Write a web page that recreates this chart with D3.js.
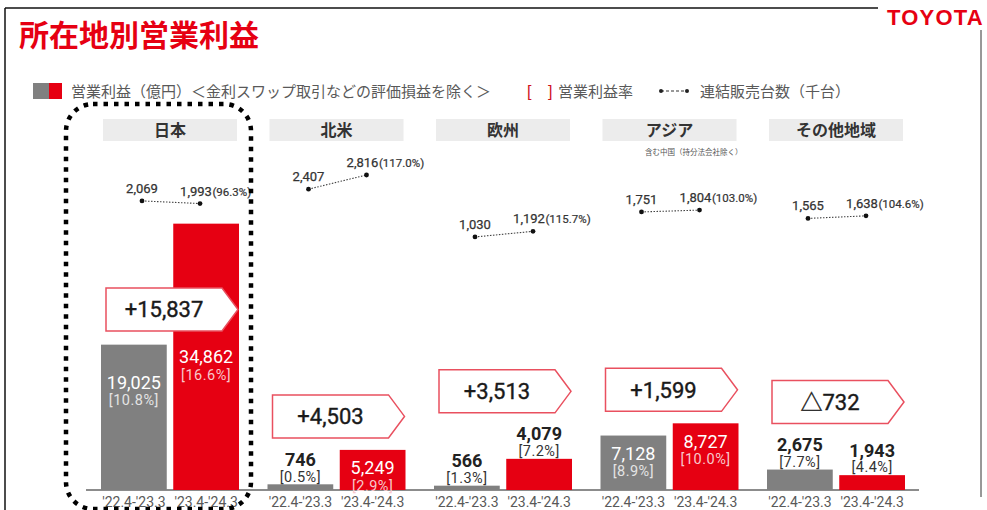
<!DOCTYPE html>
<html><head><meta charset="utf-8">
<script src="https://cdn.jsdelivr.net/npm/d3@7"></script>
<style>
body{margin:0;background:#fff}
svg{display:block}
text{font-family:Roboto,"Noto Sans CJK JP",sans-serif}
.jp{font-family:"Noto Sans CJK JP",sans-serif}
</style></head><body>
<svg id="chart" width="987" height="510"></svg>
<script>
// 所在地別営業利益 (億円)
var regions = ["日本", "北米", "欧州", "アジア", "その他地域"]
var periods = ["'22.4-'23.3", "'23.4-'24.3"]
var profitPrev = [19025, 746, 566, 7128, 2675]
var profitCurr = [34862, 5249, 4079, 8727, 1943]
var marginPrev = [10.8, 0.5, 1.3, 8.9, 7.7]
var marginCurr = [16.6, 2.9, 7.2, 10.0, 4.4]
// 連結販売台数 (千台)
var unitsPrev = [2069, 2407, 1030, 1751, 1565]
var unitsCurr = [1993, 2816, 1192, 1804, 1638]
var unitsRatio = [96.3, 117.0, 115.7, 103.0, 104.6]
var notes = ["", "", "", "含む中国（持分法会社除く）", ""]

var RED = "#e60012", GRAY = "#808080", TXT = "#595959"
var svg = d3.select("#chart")
var fmt = d3.format(",")
var pctFmt = d3.format(".1f")

var baseY = 490
var panelX = d3.scaleBand().domain(regions).range([101, 933.5]).padding(0)
var barX = d3.scaleBand().domain(periods).range([0, 138]).paddingInner(0.09)
var yProfit = d3.scaleLinear().domain([0, 35000]).range([baseY, 222.6])
var yUnits = d3.scaleLinear().domain([0, 3000]).range([272.7, 168.6])

// frame
svg.append("line").attr("x1", 5).attr("x2", 878).attr("y1", 8).attr("y2", 8)
    .attr("stroke", "#111").attr("stroke-width", 1.5)
svg.append("line").attr("x1", 5).attr("x2", 5).attr("y1", 8).attr("y2", 510)
    .attr("stroke", "#111").attr("stroke-width", 1.5)
svg.append("line").attr("x1", 981).attr("x2", 981).attr("y1", 30).attr("y2", 497)
    .attr("stroke", "#333").attr("stroke-width", 1)

svg.append("text").attr("class", "jp").attr("x", 19).attr("y", 46)
    .attr("font-size", 30).attr("font-weight", 700).attr("fill", RED)
    .text("所在地別営業利益")
svg.append("text").attr("x", 887).attr("y", 25)
    .style("font-family", "'Liberation Sans', Arial, sans-serif")
    .attr("font-size", 22).attr("font-weight", 700).attr("fill", RED)
    .attr("letter-spacing", 1.2).text("TOYOTA")

// legend
svg.append("rect").attr("x", 33).attr("y", 83).attr("width", 16).attr("height", 16).attr("fill", GRAY)
svg.append("rect").attr("x", 49).attr("y", 83).attr("width", 13).attr("height", 16).attr("fill", RED)
svg.append("text").attr("class", "jp").attr("x", 71).attr("y", 97).attr("font-size", 15)
    .attr("fill", TXT).text("営業利益（億円）＜金利スワップ取引などの評価損益を除く＞")
svg.append("text").attr("x", 527).attr("y", 97).attr("font-size", 16)
    .style("font-family", "'Liberation Sans', sans-serif").attr("fill", "#d0101e").text("[")
svg.append("text").attr("x", 548).attr("y", 97).attr("font-size", 16)
    .style("font-family", "'Liberation Sans', sans-serif").attr("fill", "#d0101e").text("]")
svg.append("text").attr("class", "jp").attr("x", 558).attr("y", 97).attr("font-size", 15)
    .attr("fill", TXT).text("営業利益率")
svg.append("line").attr("x1", 661).attr("x2", 687).attr("y1", 91).attr("y2", 91)
    .attr("stroke", "#333").attr("stroke-width", 1.2).attr("stroke-dasharray", "3,2")
svg.selectAll(".legDot").data([661, 687]).join("circle")
    .attr("cx", d => d).attr("cy", 91).attr("r", 2).attr("fill", "#222")
svg.append("text").attr("class", "jp").attr("x", 700).attr("y", 97).attr("font-size", 15)
    .attr("fill", TXT).text("連結販売台数（千台）")

// baseline
svg.append("line").attr("x1", 86).attr("x2", 919).attr("y1", baseY).attr("y2", baseY)
    .attr("stroke", "#666").attr("stroke-width", 1.5)

var badgeFloor = 331
var labelNudge = {"日本": [20, 8]}

regions.forEach(function (r, i) {
    var px = panelX(r)
    var g = svg.append("g").attr("transform", "translate(" + px + ",0)")

    // header
    g.append("rect").attr("x", 2).attr("y", 119).attr("width", 134).attr("height", 22).attr("fill", "#ececec")
    g.append("text").attr("class", "jp").attr("x", 69).attr("y", 136).attr("text-anchor", "middle")
        .attr("font-size", 16).attr("font-weight", 700).attr("fill", "#333").text(r)
    if (notes[i]) {
        g.append("text").attr("class", "jp").attr("x", 142).attr("y", 155).attr("text-anchor", "end")
            .attr("font-size", 7.5).attr("fill", "#555").text(notes[i])
    }

    // sales units line
    var u = [unitsPrev[i], unitsCurr[i]]
    var ux = [41, 99]
    g.append("line").attr("x1", ux[0]).attr("x2", ux[1])
        .attr("y1", yUnits(u[0])).attr("y2", yUnits(u[1]))
        .attr("stroke", "#444").attr("stroke-width", 1.1).attr("stroke-dasharray", "1.5,1.5")
    g.selectAll(".uDot").data(u).join("circle")
        .attr("cx", (d, k) => ux[k]).attr("cy", d => yUnits(d)).attr("r", 2.4).attr("fill", "#111")
    g.append("text").attr("x", ux[0]).attr("y", yUnits(u[0]) - 8).attr("text-anchor", "middle")
        .attr("font-size", 13).attr("fill", "#333").attr("stroke", "#333").attr("stroke-width", 0.25)
        .text(fmt(u[0]))
    var num = g.append("text").attr("x", ux[1] - 4).attr("y", yUnits(u[1]) - 8).attr("text-anchor", "middle")
        .attr("font-size", 13).attr("fill", "#333").attr("stroke", "#333").attr("stroke-width", 0.25)
        .text(fmt(u[1]))
    var w = num.node().getComputedTextLength()
    g.append("text").attr("x", ux[1] - 4 + w / 2 + 0.5).attr("y", yUnits(u[1]) - 8)
        .attr("font-size", 11.5).attr("fill", "#333").attr("stroke", "#333").attr("stroke-width", 0.2)
        .text("(" + pctFmt(unitsRatio[i]) + "%)")

    // bars
    var vals = [profitPrev[i], profitCurr[i]]
    var margins = [marginPrev[i], marginCurr[i]]
    var colors = [GRAY, RED]
    var bars = periods.map(function (p, k) {
        var top = yProfit(vals[k])
        return {p: p, v: vals[k], m: margins[k], top: top, h: baseY - top, c: colors[k], inside: baseY - top >= 35}
    })
    g.selectAll(".bar").data(bars).join("rect")
        .attr("x", d => barX(d.p)).attr("y", d => d.top)
        .attr("width", barX.bandwidth()).attr("height", d => d.h).attr("fill", d => d.c)

    // change badge
    var contentTop = d3.min(bars, d => d.inside ? d.top : d.top - 34)
    var bb = Math.max(contentTop - 12, badgeFloor)
    var bt = bb - 43
    var bl = 5, bn = 121, btip = 137
    g.append("path")
        .attr("d", "M" + bl + "," + bt + "H" + bn + "L" + btip + "," + (bt + bb) / 2 + "L" + bn + "," + bb + "H" + bl + "Z")
        .attr("fill", "#fff").attr("stroke", "#e9505f").attr("stroke-width", 1.5)
    var diff = vals[1] - vals[0]
    g.append("text").attr("x", (bl + bn) / 2).attr("y", (bt + bb) / 2).attr("dy", "0.36em")
        .attr("text-anchor", "middle").attr("font-size", 22).attr("fill", "#1a1a1a")
        .attr("stroke", "#1a1a1a").attr("stroke-width", 0.4)
        .text((diff >= 0 ? "+" : "△") + fmt(Math.abs(diff)))

    // value labels
    bars.forEach(function (d, k) {
        var cx = barX(d.p) + barX.bandwidth() / 2
        var vy, py, vc, pc, bold
        if (d.inside) {
            var start = d.top < bb ? bb : d.top
            var nudge = labelNudge[r] ? labelNudge[r][k] : 0
            vy = start + 18 + nudge
            py = vy + 17.5
            vc = "#fff"
            pc = k == 0 ? "#e4e4e4" : "#f8c8cc"
            bold = 400
        } else {
            vy = d.top - 25
            py = d.top - 8
            vc = "#222"
            pc = "#333"
            bold = 700
        }
        g.append("text").attr("x", cx).attr("y", vy).attr("dy", "0.36em").attr("text-anchor", "middle")
            .attr("font-size", 18).attr("font-weight", bold).attr("fill", vc).text(fmt(d.v))
        g.append("text").attr("x", cx).attr("y", py).attr("dy", "0.36em").attr("text-anchor", "middle")
            .attr("font-size", 14.5).attr("fill", pc).attr("letter-spacing", 0.5)
            .text("[" + pctFmt(d.m) + "%]")
    })

    // period axis
    var ax = g.append("g").attr("transform", "translate(0," + baseY + ")")
        .call(d3.axisBottom(barX).tickSize(0).tickPadding(7))
    ax.select(".domain").remove()
    ax.selectAll("text").attr("font-size", 14).attr("fill", TXT)
        .style("font-family", "Roboto, sans-serif")
})

// highlight frame around 日本
svg.append("rect").attr("x", 66).attr("y", 104).attr("width", 185).attr("height", 405).attr("rx", 27)
    .attr("fill", "none").attr("stroke", "#000").attr("stroke-width", 4.5).attr("stroke-dasharray", "4.5,6")
</script>
</body></html>
